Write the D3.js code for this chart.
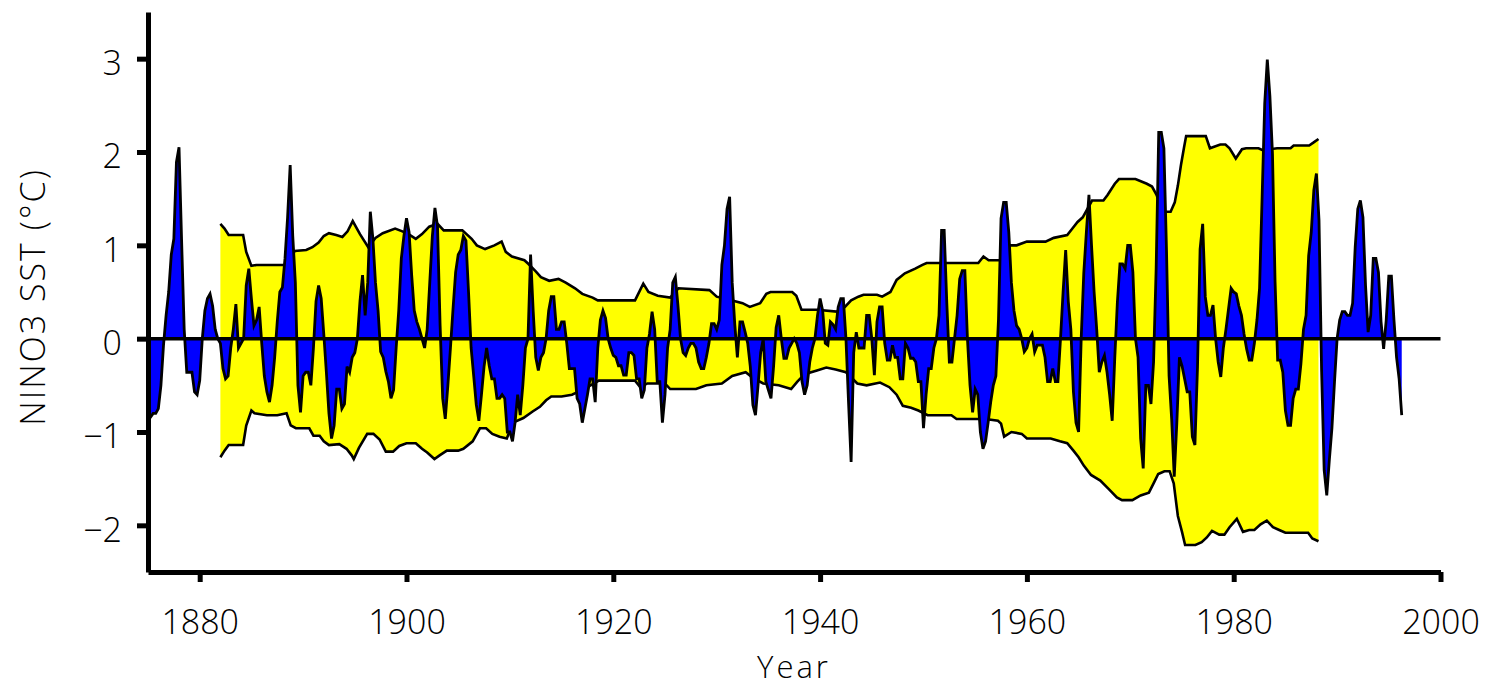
<!DOCTYPE html>
<html><head><meta charset="utf-8">
<script src="https://cdn.jsdelivr.net/npm/d3@7"></script>
<style>
html,body{margin:0;padding:0;background:#fff;}
svg{display:block;background:#fff;}
text{font-family:"Open Sans","DejaVu Sans",sans-serif;font-weight:300;fill:#000;}
</style></head><body>
<svg id="chart" width="1492" height="688"></svg>
<script>
// ---- data ----
const sstStart = 1875, sstStep = 0.25;   // seasonal NINO3 SST anomaly (°C)
const sst = [
 -0.80,-0.84,-0.80,-0.80, // 1875
 -0.75,-0.50,-0.07, 0.25, // 1876
  0.50, 0.90, 1.07, 1.89, // 1877
  2.05, 1.05, 0.10,-0.36, // 1878
 -0.36,-0.36,-0.57,-0.60, // 1879
 -0.45, 0.00, 0.30, 0.43, // 1880
  0.48, 0.35, 0.10, 0.00, // 1881
 -0.05,-0.32,-0.43,-0.40, // 1882
 -0.10, 0.10, 0.37,-0.10, // 1883
 -0.05, 0.00, 0.57, 0.75, // 1884
  0.43, 0.14, 0.20, 0.34, // 1885
 -0.05,-0.40,-0.57,-0.68, // 1886
 -0.50,-0.20, 0.18, 0.50, // 1887
  0.55, 0.86, 1.30, 1.86, // 1888
  1.10, 0.60,-0.50,-0.79, // 1889
 -0.40,-0.36,-0.36,-0.50, // 1890
 -0.10, 0.40, 0.57, 0.43, // 1891
  0.05,-0.36,-0.80,-1.07, // 1892
 -0.93,-0.54,-0.54,-0.75, // 1893
 -0.70,-0.30,-0.36,-0.20, // 1894
 -0.15, 0.00, 0.40, 0.68, // 1895
  0.25, 0.60, 1.36, 1.07, // 1896
  0.60, 0.30,-0.14,-0.20, // 1897
 -0.35,-0.46,-0.64,-0.55, // 1898
 -0.10, 0.30, 0.86, 1.10, // 1899
  1.29, 1.14, 0.68, 0.30, // 1900
  0.18, 0.10, 0.00,-0.10, // 1901
  0.10, 0.60, 1.10, 1.40, // 1902
  1.20, 0.14,-0.64,-0.86, // 1903
 -0.50,-0.10, 0.32, 0.71, // 1904
  0.90, 0.95, 1.10, 1.05, // 1905
  0.50,-0.10,-0.40,-0.71, // 1906
 -0.88,-0.60,-0.30,-0.10, // 1907
 -0.29,-0.43,-0.43,-0.64, // 1908
 -0.64,-0.60,-0.64,-1.00, // 1909
 -1.00,-1.10,-0.90,-0.60, // 1910
 -0.82,-0.50,-0.10, 0.00, // 1911
  0.90, 0.30,-0.20,-0.34, // 1912
 -0.20,-0.15, 0.00, 0.30, // 1913
  0.45, 0.45, 0.10, 0.10, // 1914
  0.18, 0.18,-0.05,-0.32, // 1915
 -0.32,-0.32,-0.64,-0.70, // 1916
 -0.90,-0.75,-0.60,-0.43, // 1917
 -0.43,-0.68,-0.10, 0.20, // 1918
  0.30, 0.22, 0.00,-0.10, // 1919
 -0.18,-0.20,-0.29,-0.29, // 1920
 -0.39,-0.39,-0.15,-0.15, // 1921
 -0.18,-0.43,-0.43,-0.64, // 1922
 -0.55,-0.10, 0.05, 0.29, // 1923
  0.10,-0.46,-0.46,-0.90, // 1924
 -0.60,-0.10, 0.10, 0.60, // 1925
  0.66, 0.36, 0.00,-0.15, // 1926
 -0.18,-0.10,-0.05,-0.05, // 1927
 -0.10,-0.25,-0.32,-0.32, // 1928
 -0.20,-0.05, 0.16, 0.16, // 1929
  0.10, 0.20, 0.79, 1.00, // 1930
  1.39, 1.52, 0.60, 0.15, // 1931
 -0.20, 0.18, 0.18, 0.07, // 1932
 -0.05,-0.30,-0.71,-0.82, // 1933
 -0.50,-0.15, 0.00,-0.46, // 1934
 -0.55,-0.64,-0.30, 0.12, // 1935
  0.25, 0.00,-0.21,-0.21, // 1936
 -0.10,-0.05, 0.00,-0.05, // 1937
 -0.15,-0.46,-0.60,-0.50, // 1938
 -0.25,-0.10, 0.00, 0.25, // 1939
  0.43, 0.30,-0.05,-0.07, // 1940
  0.18, 0.15, 0.10, 0.34, // 1941
  0.43, 0.43, 0.00,-0.68, // 1942
 -1.32,-0.15, 0.07,-0.10, // 1943
 -0.10,-0.10, 0.25, 0.25, // 1944
  0.00,-0.39, 0.18, 0.34, // 1945
  0.34,-0.05,-0.23,-0.23, // 1946
 -0.07,-0.20,-0.20,-0.43, // 1947
 -0.43,-0.05,-0.10,-0.21, // 1948
 -0.21,-0.25,-0.46,-0.46, // 1949
 -0.96,-0.60,-0.32,-0.32, // 1950
 -0.10, 0.00, 0.25, 1.16, // 1951
  1.16, 0.39,-0.25,-0.25, // 1952
  0.00, 0.25, 0.64, 0.73, // 1953
  0.73, 0.00,-0.50,-0.79, // 1954
 -0.54,-0.60,-1.00,-1.18, // 1955
 -1.10,-0.90,-0.68,-0.50, // 1956
 -0.40, 0.20, 1.29, 1.46, // 1957
  1.46, 1.14, 0.60, 0.30, // 1958
  0.14, 0.10, 0.00,-0.14, // 1959
 -0.10, 0.00, 0.05,-0.14, // 1960
 -0.07,-0.07,-0.07,-0.20, // 1961
 -0.46,-0.46,-0.32,-0.46, // 1962
 -0.46, 0.00, 0.50, 0.95, // 1963
  0.40, 0.10,-0.57,-0.90, // 1964
 -1.00, 0.00, 0.70, 1.14, // 1965
  1.54, 1.00, 0.50, 0.10, // 1966
 -0.36,-0.25,-0.18,-0.36, // 1967
 -0.60,-0.88,-0.20, 0.39, // 1968
  0.80, 0.80, 0.75, 1.00, // 1969
  1.00, 0.71, 0.00,-0.20, // 1970
 -1.07,-1.39,-0.50,-0.50, // 1971
 -0.70,-0.25, 0.75, 2.21, // 1972
  2.21, 2.04, 0.95,-0.40, // 1973
 -0.86,-1.48,-0.90,-0.20, // 1974
 -0.29,-0.43,-0.57,-0.57, // 1975
 -1.05,-1.14,-0.30, 0.96, // 1976
  1.23, 0.45, 0.25, 0.25, // 1977
  0.36, 0.00,-0.25,-0.41, // 1978
 -0.10, 0.10, 0.32, 0.54, // 1979
  0.50, 0.48, 0.35, 0.25, // 1980
  0.05,-0.11,-0.23,-0.23, // 1981
 -0.05, 0.20, 0.54, 1.52, // 1982
  2.52, 2.99, 2.60, 1.98, // 1983
  0.61,-0.23,-0.23,-0.36, // 1984
 -0.77,-0.93,-0.93,-0.64, // 1985
 -0.54,-0.54,-0.27, 0.10, // 1986
  0.25, 0.89, 1.14, 1.59, // 1987
  1.77, 1.27,-0.34,-1.41, // 1988
 -1.68,-1.30,-0.96,-0.46, // 1989
  0.00, 0.20, 0.29, 0.29, // 1990
  0.25, 0.25, 0.38, 0.98, // 1991
  1.39, 1.48, 1.30, 0.57, // 1992
  0.07, 0.25, 0.86, 0.86, // 1993
  0.71, 0.18,-0.11, 0.20, // 1994
  0.67, 0.67, 0.20,-0.20, // 1995
 -0.43,-0.82              // 1996
];

// running envelope, upper edge [year, °C]
const envUpper = [[1882.0,1.23],[1882.4,1.18],[1882.8,1.11],[1884.2,1.11],[1884.5,0.93],[1885.0,0.78],[1885.5,0.79],[1888.4,0.79],[1889.2,0.94],[1890.3,0.95],[1890.9,0.98],[1891.5,1.03],[1892.0,1.10],[1892.5,1.13],[1893.2,1.11],[1893.8,1.09],[1894.3,1.15],[1894.8,1.26],[1895.5,1.12],[1896.3,0.98],[1897.0,1.08],[1897.7,1.13],[1898.9,1.18],[1899.6,1.15],[1900.2,1.12],[1900.9,1.07],[1901.5,1.12],[1902.2,1.20],[1903.0,1.23],[1903.6,1.16],[1905.4,1.16],[1906.3,1.07],[1906.8,1.00],[1907.6,0.96],[1908.5,1.00],[1909.2,1.04],[1909.6,0.93],[1910.2,0.88],[1911.4,0.84],[1911.8,0.80],[1912.5,0.72],[1913.0,0.66],[1913.8,0.62],[1914.7,0.64],[1915.4,0.60],[1916.3,0.54],[1917.0,0.48],[1918.0,0.44],[1918.5,0.41],[1922.1,0.41],[1922.9,0.59],[1923.4,0.50],[1924.3,0.46],[1925.5,0.44],[1926.3,0.54],[1929.3,0.52],[1930.0,0.45],[1931.5,0.41],[1932.5,0.38],[1933.2,0.34],[1934.2,0.38],[1934.8,0.48],[1935.2,0.50],[1937.3,0.50],[1937.7,0.46],[1938.2,0.31],[1939.7,0.31],[1941.6,0.29],[1942.4,0.34],[1943.0,0.41],[1943.7,0.45],[1944.2,0.47],[1945.5,0.47],[1946.0,0.45],[1946.8,0.50],[1947.4,0.63],[1948.2,0.70],[1949.2,0.75],[1949.9,0.79],[1950.3,0.81],[1955.3,0.81],[1955.8,0.88],[1956.3,0.84],[1957.4,0.84],[1958.4,1.00],[1959.0,1.00],[1960.0,1.04],[1961.8,1.04],[1962.6,1.08],[1963.9,1.11],[1964.4,1.18],[1964.9,1.25],[1965.4,1.30],[1966.3,1.48],[1967.4,1.48],[1967.8,1.54],[1968.5,1.66],[1968.9,1.71],[1970.5,1.71],[1971.6,1.66],[1972.1,1.63],[1972.5,1.55],[1973.2,1.36],[1973.9,1.36],[1974.3,1.46],[1974.6,1.64],[1974.9,1.86],[1975.2,2.05],[1975.4,2.17],[1977.3,2.17],[1977.7,2.04],[1978.7,2.08],[1979.2,2.08],[1979.6,2.04],[1980.2,1.93],[1980.8,2.03],[1981.2,2.04],[1982.4,2.04],[1982.8,2.02],[1984.2,2.04],[1985.5,2.04],[1985.8,2.07],[1987.3,2.07],[1987.7,2.10],[1988.2,2.14]];

// running envelope, lower edge [year, °C]
const envLower = [[1882.0,-1.27],[1882.4,-1.20],[1882.8,-1.14],[1884.2,-1.14],[1884.5,-0.93],[1885.0,-0.77],[1885.3,-0.80],[1886.5,-0.82],[1887.5,-0.82],[1888.4,-0.80],[1888.8,-0.93],[1889.3,-0.96],[1890.6,-0.96],[1891.0,-1.04],[1891.6,-1.04],[1892.0,-1.10],[1892.5,-1.14],[1893.5,-1.13],[1894.2,-1.18],[1894.7,-1.25],[1894.9,-1.29],[1895.4,-1.17],[1896.2,-1.02],[1896.8,-1.02],[1897.4,-1.08],[1898.0,-1.21],[1898.7,-1.21],[1899.3,-1.15],[1900.0,-1.12],[1900.9,-1.12],[1901.5,-1.18],[1902.0,-1.22],[1902.7,-1.29],[1903.2,-1.25],[1903.9,-1.20],[1905.0,-1.20],[1905.5,-1.18],[1906.4,-1.10],[1907.1,-0.96],[1907.7,-0.96],[1908.3,-1.02],[1909.0,-1.05],[1909.7,-1.07],[1910.3,-0.90],[1911.3,-0.85],[1912.2,-0.78],[1912.9,-0.73],[1913.5,-0.66],[1914.0,-0.62],[1915.0,-0.62],[1916.0,-0.60],[1916.8,-0.56],[1917.8,-0.50],[1918.6,-0.45],[1922.1,-0.45],[1922.6,-0.52],[1923.3,-0.48],[1925.0,-0.48],[1925.5,-0.54],[1928.0,-0.54],[1929.0,-0.50],[1930.5,-0.48],[1931.5,-0.40],[1932.8,-0.36],[1933.5,-0.42],[1934.5,-0.48],[1936.0,-0.50],[1937.2,-0.54],[1937.8,-0.46],[1938.5,-0.38],[1939.7,-0.34],[1940.6,-0.31],[1941.5,-0.33],[1942.5,-0.36],[1943.6,-0.48],[1944.5,-0.50],[1945.8,-0.47],[1946.7,-0.52],[1947.4,-0.60],[1948.0,-0.72],[1948.8,-0.74],[1949.5,-0.77],[1950.4,-0.82],[1952.7,-0.82],[1953.2,-0.86],[1956.0,-0.86],[1957.2,-0.88],[1957.5,-0.91],[1957.8,-1.05],[1958.5,-1.00],[1959.5,-1.02],[1960.0,-1.07],[1962.3,-1.07],[1963.2,-1.10],[1963.9,-1.12],[1964.5,-1.20],[1965.0,-1.27],[1965.5,-1.36],[1966.2,-1.46],[1967.1,-1.52],[1967.9,-1.61],[1968.7,-1.70],[1969.2,-1.73],[1970.2,-1.73],[1971.0,-1.68],[1971.8,-1.65],[1972.3,-1.54],[1972.7,-1.45],[1973.3,-1.42],[1973.8,-1.42],[1974.2,-1.55],[1974.6,-1.90],[1975.0,-2.07],[1975.3,-2.21],[1976.3,-2.21],[1976.9,-2.18],[1977.4,-2.13],[1977.9,-2.06],[1978.6,-2.10],[1979.1,-2.10],[1979.6,-2.02],[1980.3,-1.93],[1980.9,-2.07],[1981.5,-2.05],[1982.0,-2.05],[1982.6,-1.99],[1983.2,-1.95],[1983.8,-2.02],[1984.4,-2.05],[1985.0,-2.08],[1987.2,-2.08],[1987.6,-2.14],[1988.2,-2.17]];

const yMajorTicks = [-2, -1, 0, 1, 2, 3];
const yMinorTicks = [-2.5, -1.5, -0.5, 0.5, 1.5, 2.5, 3.5];
const xMajorTicks = [1880, 1900, 1920, 1940, 1960, 1980, 2000];
const xMinorTicks = [1875, 1885, 1890, 1895, 1905, 1910, 1915, 1925, 1930, 1935, 1945, 1950, 1955, 1965, 1970, 1975, 1985, 1990, 1995];
const yTitle = "NINO3 SST (°C)";
const xTitle = "Year";

// ---- drawing ----
const svg = d3.select("#chart");
const x = d3.scaleLinear().domain([1875, 2000]).range([148, 1440.5]);
const y = d3.scaleLinear().domain([-2.5, 3.5]).range([572, 12]);

const series = sst.map((v, i) => [sstStart + i * sstStep, v]);

// envelope (yellow band)
const polyLine = d3.line().x(d => x(d[0])).y(d => y(d[1]));
svg.append("path")
  .attr("d", polyLine(envUpper.concat(envLower.slice().reverse())) + "Z")
  .attr("fill", "#ffff00").attr("stroke", "none");
svg.append("path").attr("d", polyLine(envUpper))
  .attr("fill", "none").attr("stroke", "#000").attr("stroke-width", 2.6);
svg.append("path").attr("d", polyLine(envLower))
  .attr("fill", "none").attr("stroke", "#000").attr("stroke-width", 2.6);

// anomaly series
const area = d3.area().x(d => x(d[0])).y0(y(0)).y1(d => y(d[1]));
svg.append("path").attr("d", area(series))
  .attr("fill", "#0000ff").attr("stroke", "none");
svg.append("path").attr("d", polyLine(series))
  .attr("fill", "none").attr("stroke", "#000").attr("stroke-width", 2.8)
  .attr("stroke-linejoin", "miter");

// zero line
svg.append("line")
  .attr("x1", x(1875)).attr("x2", x(2000))
  .attr("y1", y(0)).attr("y2", y(0))
  .attr("stroke", "#000").attr("stroke-width", 3.5);

// axes
const fs = 34;
const gy = svg.append("g").attr("transform", `translate(${x(1875)},0)`);
gy.call(d3.axisLeft(y).tickValues(yMinorTicks).tickSize(5).tickSizeOuter(0).tickFormat(""));
gy.call(d3.axisLeft(y).tickValues(yMajorTicks).tickSize(11).tickSizeOuter(0).tickPadding(15)
  .tickFormat(d3.format("d")));
gy.selectAll("path.domain").attr("stroke-width", 5).attr("stroke", "#000");
gy.selectAll(".tick line").attr("stroke-width", 5).attr("stroke", "#000");
gy.selectAll(".tick text").attr("font-size", fs).attr("dy", "0.47em")
  .attr("font-family", null);

const gx = svg.append("g").attr("transform", `translate(0,${y(-2.5)})`);
gx.call(d3.axisBottom(x).tickValues(xMinorTicks).tickSize(5).tickSizeOuter(0).tickFormat(""));
gx.call(d3.axisBottom(x).tickValues(xMajorTicks).tickSize(10).tickSizeOuter(0).tickPadding(28)
  .tickFormat(d3.format("d")));
gx.selectAll("path.domain").attr("stroke-width", 5).attr("stroke", "#000");
gx.selectAll(".tick line").attr("stroke-width", 5).attr("stroke", "#000");
gx.selectAll(".tick text").attr("font-size", fs).attr("font-family", null);

// titles
svg.append("text")
  .attr("transform", "translate(45,297) rotate(-90)")
  .attr("text-anchor", "middle").attr("font-size", fs)
  .style("letter-spacing", "2px")
  .text(yTitle);
svg.append("text")
  .attr("x", 794).attr("y", 678)
  .attr("text-anchor", "middle").attr("font-size", 31)
  .style("letter-spacing", "3px")
  .text(xTitle);
</script>
</body></html>
